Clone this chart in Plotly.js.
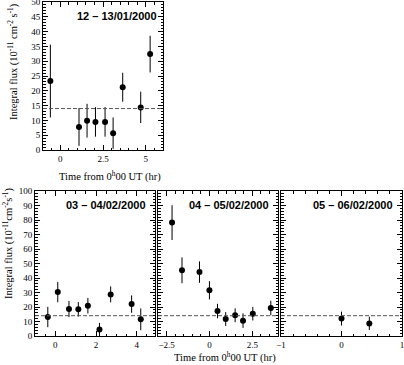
<!DOCTYPE html>
<html>
<head>
<meta charset="utf-8">
<script src="https://cdn.plot.ly/plotly-3.0.1.min.js"></script>
<style>
body { margin: 0; background: #fff; }
#chart { width: 404px; height: 365px; }
</style>
</head>
<body>
<div id="chart"></div>
<script>
// 12 - 13/01/2000
let timeJan = [-0.57, 1.1, 1.57, 2.06, 2.62, 3.09, 3.65, 4.7, 5.25]
let fluxJan = [23.3, 7.8, 9.9, 9.5, 9.5, 5.7, 21.2, 14.4, 32.4]
let errJan = [12.3, 6.4, 5.7, 5.0, 5.0, 5.3, 4.9, 5.3, 6.2]

// 03 - 04/02/2000
let timeFeb3 = [-0.37, 0.12, 0.67, 1.13, 1.6, 2.17, 2.72, 3.75, 4.2]
let fluxFeb3 = [13.1, 30.3, 18.6, 18.4, 20.9, 4.4, 28.7, 22.0, 11.5]
let errFeb3 = [7.0, 7.0, 5.6, 5.0, 5.4, 4.6, 5.5, 6.0, 7.5]

// 04 - 05/02/2000
let timeFeb4 = [-2.18, -1.6, -0.58, 0.0, 0.47, 0.95, 1.5, 1.96, 2.53, 3.58]
let fluxFeb4 = [78.2, 45.3, 44.1, 31.5, 17.2, 11.7, 14.3, 10.6, 15.4, 19.3]
let errFeb4 = [12.0, 8.9, 7.4, 6.3, 5.0, 4.8, 4.8, 5.0, 4.7, 5.0]

// 05 - 06/02/2000
let timeFeb5 = [0.0, 0.46]
let fluxFeb5 = [12.0, 8.7]
let errFeb5 = [4.8, 4.6]

let panelLabels = ["12 \u2013 13/01/2000", "03 \u2013 04/02/2000", "04 \u2013 05/02/2000", "05 \u2013 06/02/2000"]
let baseline = 14

let serif = "Liberation Serif, Times New Roman, serif"
let sans = "Liberation Sans, Arial, sans-serif"

function series(x, y, e, n){
    return {
        x: x, y: y, type: "scatter", mode: "markers",
        xaxis: "x" + n, yaxis: "y" + n,
        marker: {color: "black", size: 6},
        error_y: {type: "data", array: e, visible: true, width: 0, thickness: 1, color: "black"},
        showlegend: false, hoverinfo: "skip"
    }
}

let data = [
    series(timeJan, fluxJan, errJan, ""),
    series(timeFeb3, fluxFeb3, errFeb3, "2"),
    series(timeFeb4, fluxFeb4, errFeb4, "3"),
    series(timeFeb5, fluxFeb5, errFeb5, "4")
]

function xax(dom, range, dtick, minor, anchor){
    return {
        domain: dom, range: range, anchor: anchor,
        tick0: 0, dtick: dtick, ticks: "inside", ticklen: 5, tickcolor: "black",
        minor: {ticks: "inside", ticklen: 2.5, dtick: minor, tick0: 0, tickcolor: "black"},
        showline: true, linecolor: "black", linewidth: 1, mirror: "allticks",
        showgrid: false, zeroline: false, ticklabeloverflow: "allow",
        tickfont: {family: serif, size: 9, color: "black"}
    }
}
function yax(dom, range, dtick, minor, anchor, labels){
    return {
        domain: dom, range: range, anchor: anchor,
        tick0: 0, dtick: dtick, ticks: "inside", ticklen: 5, tickcolor: "black",
        minor: {ticks: "inside", ticklen: 2.5, dtick: minor, tick0: 0, tickcolor: "black"},
        showline: true, linecolor: "black", linewidth: 1, mirror: "allticks",
        showgrid: false, zeroline: false, showticklabels: labels, ticklabeloverflow: "allow",
        tickfont: {family: serif, size: 9, color: "black"}
    }
}

let W = 404, H = 365
let topY = [1 - 150 / H, 1 - 2 / H]
let botY = [1 - 336 / H, 1 - 191 / H]

let yTitleTop = "Integral flux (10<sup>-11</sup> cm<sup>-2</sup> s<sup>-1</sup>)"
let yTitleBot = "Integral flux (10<sup>-11</sup>cm<sup>-2</sup>s<sup>-1</sup>)"
let xTitle = "Time from 0<sup>h</sup>00 UT (hr)"

function label(text, xr, yr, xpos){
    return {
        text: "<b>" + text + "</b>", xref: xr + " domain", yref: yr + " domain",
        x: xpos, y: 0.905, xanchor: "right", yanchor: "middle", showarrow: false,
        font: {family: sans, size: 11, color: "black"}
    }
}

let layout = {
    width: W, height: H,
    margin: {l: 0, r: 0, t: 0, b: 0},
    paper_bgcolor: "white", plot_bgcolor: "white",
    xaxis: xax([43 / W, 163 / W], [-1, 6], 2.5, 0.5, "y"),
    yaxis: yax(topY, [0, 50], 5, 1, "x", true),
    xaxis2: xax([35 / W, 155 / W], [-1, 4.9], 2, 0.5, "y2"),
    yaxis2: yax(botY, [0, 100], 10, 2, "x2", true),
    xaxis3: xax([158 / W, 278 / W], [-3, 4], 2.5, 0.5, "y3"),
    yaxis3: yax(botY, [0, 100], 10, 2, "x3", false),
    xaxis4: xax([281 / W, 402 / W], [-1, 1], 1, 0.2, "y4"),
    yaxis4: yax(botY, [0, 100], 10, 2, "x4", false),
    shapes: ["", "2", "3", "4"].map(n => ({
        type: "line", xref: "x" + n + " domain", yref: "y" + n,
        x0: 0, x1: 1, y0: baseline, y1: baseline,
        line: {color: "#555", width: 1, dash: "4px,2px"}
    })),
    annotations: [
        label(panelLabels[0], "x", "y", 0.97),
        label(panelLabels[1], "x2", "y2", 0.94),
        label(panelLabels[2], "x3", "y3", 0.94),
        label(panelLabels[3], "x4", "y4", 0.94),
        {text: yTitleTop, xref: "paper", yref: "paper", x: 13 / W, y: 1 - 62 / H,
         textangle: -90, showarrow: false, xanchor: "center", yanchor: "middle",
         font: {family: serif, size: 10.5, color: "black"}},
        {text: yTitleBot, xref: "paper", yref: "paper", x: 8 / W, y: 1 - 243 / H,
         textangle: -90, showarrow: false, xanchor: "center", yanchor: "middle",
         font: {family: serif, size: 10.5, color: "black"}},
        {text: xTitle, xref: "paper", yref: "paper", x: 163 / W, y: 1 - 176 / H,
         showarrow: false, xanchor: "right", yanchor: "middle",
         font: {family: serif, size: 10.5, color: "black"}},
        {text: xTitle, xref: "paper", yref: "paper", x: 278 / W, y: 1 - 357 / H,
         showarrow: false, xanchor: "right", yanchor: "middle",
         font: {family: serif, size: 10.5, color: "black"}}
    ]
}

Plotly.newPlot("chart", data, layout, {displayModeBar: false, staticPlot: true})
</script>
</body>
</html>
